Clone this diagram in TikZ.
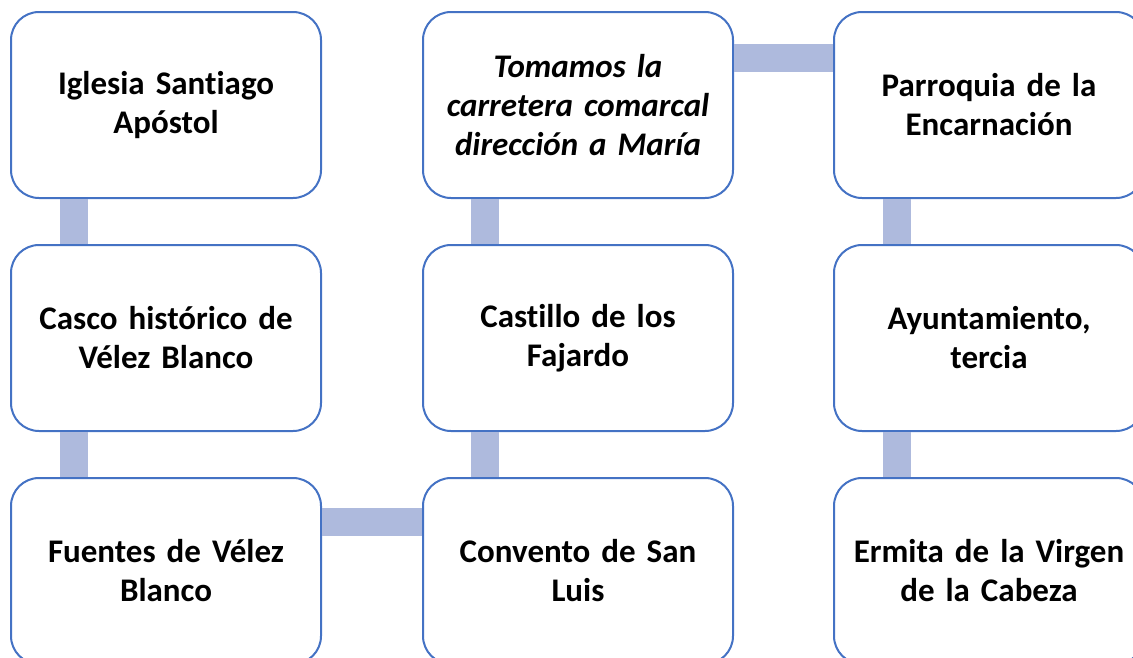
\documentclass[tikz,border=0pt]{standalone}
\usepackage{fontspec}
\setmainfont{Carlito}[Ligatures=NoCommon]
\usetikzlibrary{calc}
\definecolor{boxline}{HTML}{4472C4}
\definecolor{barcol}{HTML}{AEBADD}
\begin{document}
\begin{tikzpicture}[x=1pt,y=-1pt,
  stepbox/.style={draw=boxline, line width=2pt, fill=white, rounded corners=28pt,
    minimum width=310pt, minimum height=186pt, text width=300pt, align=center,
    inner sep=0pt, font=\fontsize{33}{39}\selectfont\bfseries},
  bar/.style={draw=barcol, line width=28pt}]
\useasboundingbox (0,0) rectangle (1133,657);
\path (166,105) coordinate (c11) (166,338) coordinate (c12) (166,571) coordinate (c13)
      (578,105) coordinate (c21) (578,338) coordinate (c22) (578,571) coordinate (c23)
      (989,105) coordinate (c31) (989,338) coordinate (c32) (989,571) coordinate (c33);
\node[stepbox] (a1) at (c11) {Iglesia Santiago\\Apóstol};
\node[stepbox] (a2) at (c12) {Casco histórico de\\Vélez Blanco};
\node[stepbox] (a3) at (c13) {Fuentes de Vélez\\Blanco};
\node[stepbox] (b3) at (c23) {Convento de San\\Luis};
\node[stepbox] (b2) at (c22) {Castillo de los\\Fajardo};
\node[stepbox, font=\fontsize{33}{39}\selectfont\bfseries\itshape] (b1) at (c21) {Tomamos la\\carretera comarcal\\dirección a María};
\node[stepbox] (d1) at (c31) {Parroquia de la\\Encarnación};
\node[stepbox] (d2) at (c32) {Ayuntamiento,\\tercia};
\node[stepbox] (d3) at (c33) {Ermita de la Virgen\\de la Cabeza};
\draw[bar] ($(a1.south west)+(64,0)$) -- ($(a2.north west)+(64,0)$);
\draw[bar] ($(a2.south west)+(64,0)$) -- ($(a3.north west)+(64,0)$);
\draw[bar] ($(a3.north east)+(0,45)$) -- ($(b3.north west)+(0,45)$);
\draw[bar] ($(b3.north west)+(63,0)$) -- ($(b2.south west)+(63,0)$);
\draw[bar] ($(b2.north west)+(63,0)$) -- ($(b1.south west)+(63,0)$);
\draw[bar] ($(b1.north east)+(0,47)$) -- ($(d1.north west)+(0,47)$);
\draw[bar] ($(d1.south west)+(64,0)$) -- ($(d2.north west)+(64,0)$);
\draw[bar] ($(d2.south west)+(64,0)$) -- ($(d3.north west)+(64,0)$);
\end{tikzpicture}
\end{document}
